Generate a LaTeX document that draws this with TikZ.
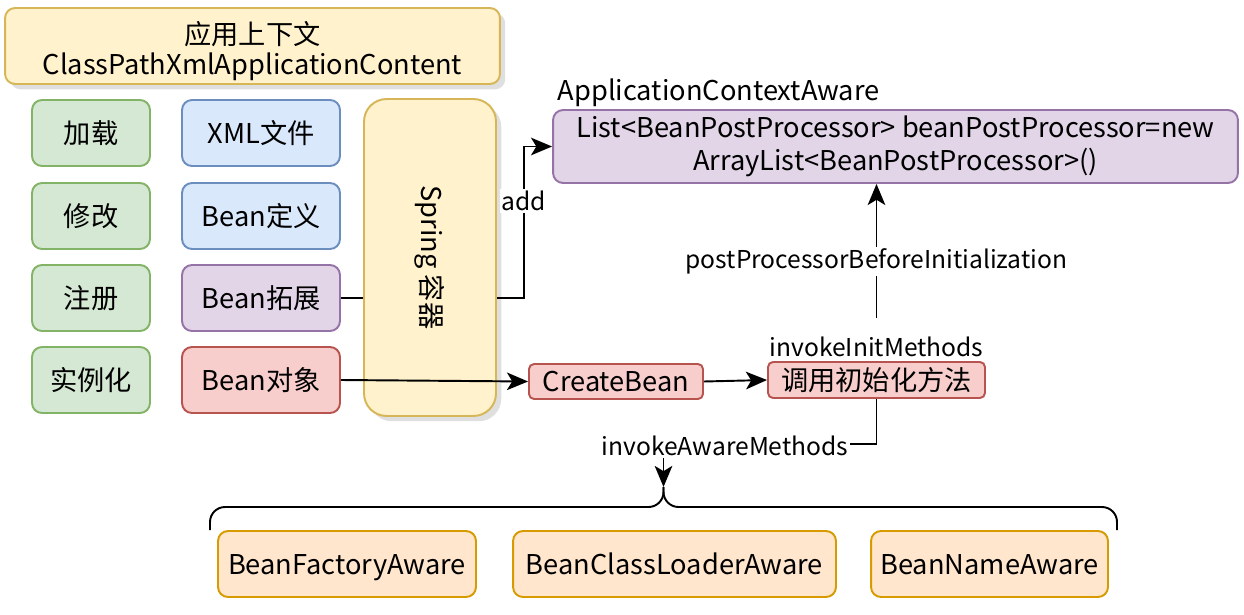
\documentclass[tikz,border=0pt]{standalone}
\usepackage{fontspec}
\setmainfont{Noto Sans CJK SC}
\usetikzlibrary{arrows.meta,shadows}

\definecolor{yelfill}{HTML}{FFF2CC}
\definecolor{yelline}{HTML}{D6B656}
\definecolor{grnfill}{HTML}{D5E8D4}
\definecolor{grnline}{HTML}{82B366}
\definecolor{blufill}{HTML}{DAE8FC}
\definecolor{bluline}{HTML}{6C8EBF}
\definecolor{purfill}{HTML}{E1D5E7}
\definecolor{purline}{HTML}{9673A6}
\definecolor{redfill}{HTML}{F8CECC}
\definecolor{redline}{HTML}{B85450}
\definecolor{orafill}{HTML}{FFE6CC}
\definecolor{oraline}{HTML}{D79B00}

\tikzset{
  box/.style={draw, line width=1.1pt, rounded corners=0.2cm, align=center,
    font=\fontsize{15.5}{17.5}\selectfont, inner sep=2pt},
  oneline/.style={text height=13pt, text depth=1.2pt},
  greenbox/.style={box, oneline, fill=grnfill, draw=grnline, minimum width=2.36cm, minimum height=1.32cm},
  bluebox/.style={box, oneline, fill=blufill, draw=bluline, minimum width=3.16cm, minimum height=1.32cm},
  purplebox/.style={box, fill=purfill, draw=purline},
  redbox/.style={box, oneline, fill=redfill, draw=redline},
  awarebox/.style={box, oneline, fill=orafill, draw=oraline, minimum height=1.32cm},
  yellowbox/.style={box, fill=yelfill, draw=yelline, drop shadow={opacity=0.25, shadow xshift=3pt, shadow yshift=-3pt}},
  lbl/.style={font=\fontsize{14}{16}\selectfont, fill=white, inner sep=1pt},
  arr/.style={line width=1.1pt, -{Stealth[length=12pt,width=10pt,inset=3pt]}},
  conn/.style={line width=1.1pt}
}

\begin{document}
\begin{tikzpicture}[x=0.02cm,y=-0.02cm]
\useasboundingbox (0,0) rectangle (1244,615);

% Context
\node[yellowbox, minimum width=9.9cm, minimum height=1.52cm] (ctx) at (252.5,46) {};
\node[font=\fontsize{15.5}{17.5}\selectfont, align=center] (ctxtxt) at (252.5,51)
  {应用上下文\\ClassPathXmlApplicationContent};

% Phases
\node[greenbox] (load) at (91,133) {加载};
\node[greenbox] (modify) at (91,216) {修改};
\node[greenbox] (register) at (91,298) {注册};
\node[greenbox] (instance) at (91,380) {实例化};

% Stages
\node[bluebox] (xmlfile) at (261,133) {XML文件};
\node[bluebox] (beandef) at (261,216) {Bean定义};
\node[purplebox, oneline, minimum width=3.16cm, minimum height=1.32cm] (beanext) at (261,298) {Bean拓展};
\node[redbox, minimum width=3.16cm, minimum height=1.32cm] (beanobj) at (261,380) {Bean对象};

% Container
\node[yellowbox, rounded corners=0.45cm, minimum width=2.64cm, minimum height=6.34cm] (spring) at (430,257.5) {};
\node[font=\fontsize{15.5}{17.5}\selectfont, rotate=-90] (springtxt) at (spring.center) {Spring 容器};

% Processor list
\node[purplebox, minimum width=13.7cm, minimum height=1.46cm, inner sep=1pt,
  font=\fontsize{15.5}{18.5}\selectfont] (bpplist) at (895.5,146.5)
  {List<BeanPostProcessor> beanPostProcessor=new\\ArrayList<BeanPostProcessor>()};
\node[anchor=south west, inner sep=1pt, font=\fontsize{15.5}{17.5}\selectfont] (ctxaware)
  at ([xshift=2pt]bpplist.north west) {ApplicationContextAware};

% Creation
\node[redbox, rounded corners=0.1cm, minimum width=3.48cm, minimum height=0.7cm] (createbean) at (616,381.5) {CreateBean};
\node[redbox, rounded corners=0.1cm, minimum width=4.34cm, minimum height=0.72cm] (initcall) at (876.5,380) {调用初始化方法};
\node[lbl, above=1pt] (initlbl) at (initcall.north) {invokeInitMethods};

% Aware interfaces
\node[awarebox, minimum width=5.16cm] (factoryaware) at (347,564) {BeanFactoryAware};
\node[awarebox, minimum width=6.46cm] (loaderaware) at (674.5,564) {BeanClassLoaderAware};
\node[awarebox, minimum width=4.74cm] (nameaware) at (989.5,564) {BeanNameAware};
\coordinate (braceL) at (210,530);
\coordinate (braceR) at (1117,530);
\coordinate (braceTip) at (663.5,487);
\draw[conn, rounded corners=0.3cm] (braceL) -- (210,507) -- (663.5,507) -- (braceTip);
\draw[conn, rounded corners=0.3cm] (braceR) -- (1117,507) -- (663.5,507) -- (braceTip);

% Connectors
\draw[conn] (beanext.east) -- (spring.west |- beanext.east);
\draw[arr] (spring.east |- beanext.east) -- (524,298) |- (bpplist.west)
  node[lbl, pos=0.32] (addlbl) {add};
\draw[arr] (beanobj.east) -- (createbean.west);
\draw[arr] (createbean.east) -- (initcall.west);
\coordinate (postfrom) at (876.5,318);
\draw[arr] (postfrom) -- (bpplist.south -| postfrom)
  node[lbl, pos=0.42] (postlbl) {postProcessorBeforeInitialization};
\draw[arr] (initcall.south) -- (876.5,444) -| (braceTip);
\node[lbl] (awarelbl) at (725,446) {invokeAwareMethods};
\end{tikzpicture}
\end{document}
